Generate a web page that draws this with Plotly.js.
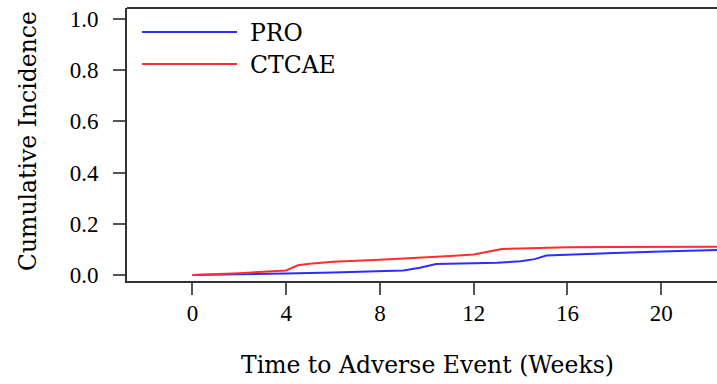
<!DOCTYPE html>
<html>
<head>
<meta charset="utf-8">
<script src="https://cdn.plot.ly/plotly-3.0.1.min.js"></script>
<style>html,body{margin:0;padding:0;background:#fff;}#chart{width:717px;height:384px;}</style>
</head>
<body>
<div id="chart"></div>
<script>
// Data (weeks vs cumulative incidence)
const proWeeks   = [0, 2, 4, 6, 8, 9, 9.7, 10.4, 12, 13, 14, 14.6, 15.1, 16, 18, 20, 22.5];
const proValues  = [0, 0.002, 0.006, 0.01, 0.015, 0.018, 0.028, 0.043, 0.046, 0.048, 0.054, 0.062, 0.076, 0.08, 0.086, 0.092, 0.098];
const ctcaeWeeks = [0, 2, 4, 4.5, 5, 6, 8, 10, 11, 12, 12.5, 13.2, 14, 16, 18, 22.5];
const ctcaeValues= [0, 0.007, 0.018, 0.038, 0.044, 0.052, 0.06, 0.068, 0.074, 0.08, 0.09, 0.102, 0.104, 0.108, 0.109, 0.11];
const xTicks = [0, 4, 8, 12, 16, 20];
const yTicks = [0, 0.2, 0.4, 0.6, 0.8, 1.0];
const yTickLabels = ['0.0', '0.2', '0.4', '0.6', '0.8', '1.0'];
const seriesNames = ['PRO', 'CTCAE'];
const seriesColors = ['rgb(45,45,255)', 'rgb(255,45,45)'];

const titleFont = {family: 'DejaVu Serif', size: 23.5, color: '#000'};

const traces = [
  {x: proWeeks, y: proValues, mode: 'lines', name: seriesNames[0], line: {color: seriesColors[0], width: 2, shape: 'linear'}, showlegend: false},
  {x: ctcaeWeeks, y: ctcaeValues, mode: 'lines', name: seriesNames[1], line: {color: seriesColors[1], width: 2, shape: 'linear'}, showlegend: false}
];

// plot area pixel geometry
const L = 127, R = 717, T = 8, B = 281;
const px = v => (v - L) / (R - L);
const py = v => (B - v) / (B - T);

const layout = {
  width: 717, height: 384,
  font: {family: 'Liberation Serif', size: 23, color: '#000'},
  margin: {l: L, r: 0, t: T, b: 384 - B, pad: 0},
  paper_bgcolor: '#fff', plot_bgcolor: '#fff',
  showlegend: false,
  xaxis: {
    range: [-2.79, 22.38], tickmode: 'array', tickvals: xTicks, ticktext: xTicks.map(String),
    showgrid: false, zeroline: false, showline: true, linecolor: '#333', linewidth: 2,
    ticks: 'outside', ticklen: 12, tickwidth: 2, tickcolor: '#555',
    tickfont: {family: 'Liberation Serif', size: 23, color: '#000'}, ticklabelstandoff: -2
  },
  yaxis: {
    range: [-0.0234, 1.043], tickmode: 'array', tickvals: yTicks, ticktext: yTickLabels,
    showgrid: false, zeroline: false, showline: true, linecolor: '#333', linewidth: 2,
    ticks: 'outside', ticklen: 12, tickwidth: 2, tickcolor: '#555',
    tickfont: {family: 'Liberation Serif', size: 23, color: '#000'}, ticklabelstandoff: 10
  },
  shapes: [
    {type: 'line', xref: 'paper', yref: 'paper', x0: 0, x1: 1, y0: 1, y1: 1, line: {color: '#333', width: 2}},
    {type: 'line', xref: 'paper', yref: 'paper', x0: px(142), x1: px(237), y0: py(32), y1: py(32), line: {color: seriesColors[0], width: 2}},
    {type: 'line', xref: 'paper', yref: 'paper', x0: px(142), x1: px(237), y0: py(64), y1: py(64), line: {color: seriesColors[1], width: 2}}
  ],
  annotations: [
    {text: seriesNames[0], xref: 'paper', yref: 'paper', x: px(248), y: py(33), xanchor: 'left', yanchor: 'middle', showarrow: false, font: titleFont},
    {text: seriesNames[1], xref: 'paper', yref: 'paper', x: px(248), y: py(65), xanchor: 'left', yanchor: 'middle', showarrow: false, font: titleFont},
    {text: 'Time to Adverse Event (Weeks)', xref: 'paper', yref: 'paper', x: px(428), y: py(365), xanchor: 'center', yanchor: 'middle', showarrow: false, font: titleFont},
    {text: 'Cumulative Incidence', xref: 'paper', yref: 'paper', x: px(28), y: py(141), xanchor: 'center', yanchor: 'middle', textangle: -90, showarrow: false, font: titleFont}
  ]
};

Plotly.newPlot('chart', traces, layout, {staticPlot: true, displayModeBar: false});
</script>
</body>
</html>
